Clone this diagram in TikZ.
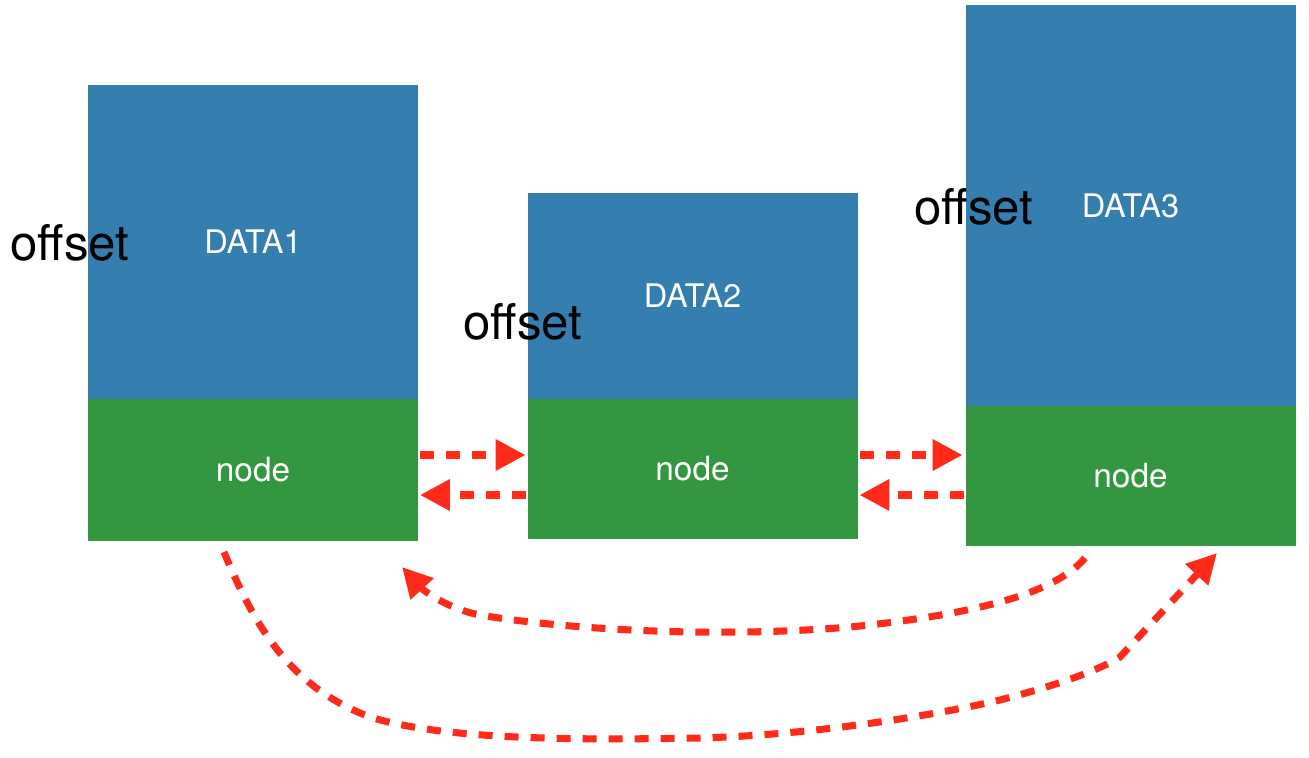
\documentclass[tikz,border=0pt]{standalone}
\usepackage{fontspec}
\setmainfont{TeX Gyre Heros}
\usetikzlibrary{positioning,arrows.meta}
\definecolor{datablue}{RGB}{52,126,176}
\definecolor{nodegreen}{RGB}{51,150,64}
\definecolor{linkred}{RGB}{255,42,26}
\begin{document}
\begin{tikzpicture}[
  datablock/.style={fill=datablue,text=white,minimum width=6.6cm,inner sep=0pt,outer sep=0pt,font=\fontsize{18.5}{22}\selectfont},
  nodeblock/.style={fill=nodegreen,text=white,minimum width=6.6cm,minimum height=2.8cm,inner sep=0pt,outer sep=0pt,font=\fontsize{19}{22}\selectfont},
  offsetlabel/.style={text=black,inner sep=0pt,font=\fontsize{28}{32}\selectfont},
  link/.style={linkred,line width=4pt,dash pattern=on 0.28cm off 0.24cm,-{Triangle[length=17pt,width=17pt]}}
]

%% - Draw helping gridlines
%% - --------------------------------------

%\draw[step=1cm,gray,very thin] (0,0) grid (26,15);

\useasboundingbox[fill=white] (0,0) rectangle (26.18,15.14);

%% - Draw blocks
%% - --------------------------------------

%% - block 1
\node[datablock,minimum height=6.28cm] (data1) at (5.06,10.3) {DATA1};
\node[nodeblock,minimum height=2.84cm,below=0cm of data1] (node1) {node};

%% - block 2
\node[datablock,minimum height=4.12cm] (data2) at (13.85,9.22) {DATA2};
\node[nodeblock,below=0cm of data2] (node2) {node};

%% - block 3
\node[datablock,minimum height=8.02cm] (data3) at (22.61,11.03) {DATA3};
\node[nodeblock,below=0cm of data3] (node3) {\raisebox{-0.15cm}{node}};

%% - Draw Texts
%% - --------------------------------------

\node[offsetlabel] (offset1) at (1.4,10.28) {offset};
\node[offsetlabel] (offset2) at (10.46,8.7) {offset};
\node[offsetlabel] (offset3) at (19.48,11.0) {offset};

%% - Draw arrows
%% - --------------------------------------

%% - node1 <-> node2
\draw[link,shorten <=0.04cm,shorten >=0.04cm] ([yshift=0.3cm]node1.east) -- ([yshift=0.3cm]node1.east -| node2.west);
\draw[link,shorten <=0.04cm,shorten >=0.04cm] ([yshift=-0.52cm]node2.west) -- ([yshift=-0.52cm]node2.west -| node1.east);

%% - node2 <-> node3
\draw[link,shorten <=0.04cm,shorten >=0.06cm] ([yshift=0.28cm]node2.east) -- ([yshift=0.28cm]node2.east -| node3.west);
\draw[link,shorten <=0.04cm,shorten >=0.04cm] ([yshift=-0.38cm]node3.west) -- ([yshift=-0.38cm]node3.west -| node2.east);

%% - node3 -> node1 (inner curve)
\coordinate (c1s) at ([xshift=-0.91cm,yshift=-0.24cm]node3.south);
\coordinate (c1e) at ([xshift=-0.32cm,yshift=-0.52cm]node1.south east);
\draw[link] (c1s) .. controls (21.2,3.4) and (20,2.9) .. (17,2.6)
  .. controls (14,2.35) and (11,2.6) .. (9.6,2.84)
  .. controls (9.0,2.95) and (8.5,3.3) .. (c1e);

%% - node1 -> node3 (outer curve)
\coordinate (c2s) at ([xshift=-0.58cm,yshift=-0.22cm]node1.south);
\coordinate (c2e) at ([xshift=1.73cm,yshift=-0.14cm]node3.south);
\draw[link] (c2s) .. controls (5.1,2.6) and (5.8,1.4) .. (7.4,0.8)
  .. controls (9,0.3) and (12,0.35) .. (14,0.38)
  .. controls (16.5,0.45) and (19,0.9) .. (20,1.14)
  .. controls (21.2,1.45) and (22,1.75) .. (22.4,2.0) -- (c2e);

\end{tikzpicture}
\end{document}
